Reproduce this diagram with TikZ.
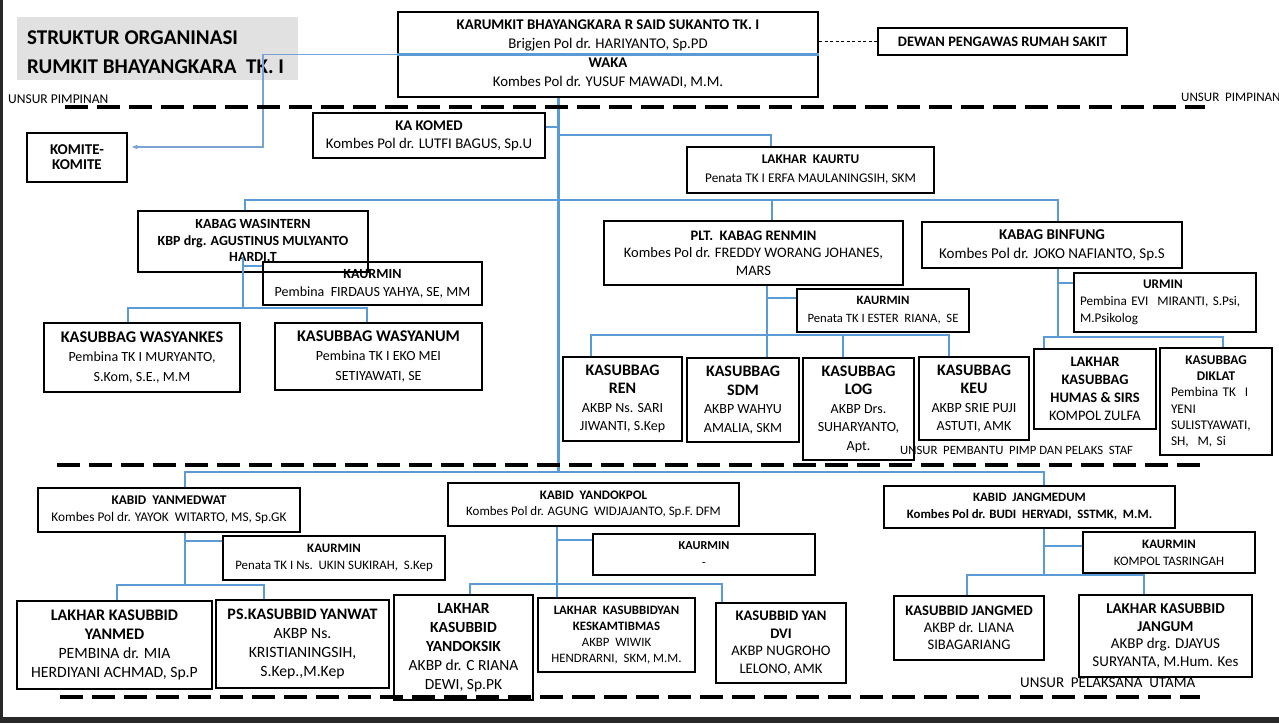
\documentclass[tikz,border=0pt]{standalone}
\usepackage{fontspec}
\setmainfont{Carlito}
\usetikzlibrary{arrows.meta}
\definecolor{lineblue}{RGB}{91,155,213}
\definecolor{thinblue}{RGB}{120,163,212}
\definecolor{titlegray}{RGB}{225,225,225}
\definecolor{framedark}{RGB}{40,40,40}
\newcommand\fsz[2]{\fontsize{#1}{#2}\selectfont}
\begin{document}
\begin{tikzpicture}[x=1pt,y=-1pt,
  box/.style={draw=black,line width=2.6pt,fill=white,align=center,inner sep=0pt},
  conn/.style={draw=lineblue,line width=2.8pt},
  sep/.style={draw=black,line width=3.2pt,dash pattern=on 23pt off 9pt},
  lbl/.style={inner sep=0pt,anchor=west,font=\fsz{12.7}{14}}]
\useasboundingbox (0,0) rectangle (1279,723);
\fill[white] (0,0) rectangle (1279,723);

% title
\fill[titlegray] (17,17) rectangle (298,80);
\node[inner sep=0pt,anchor=west,font=\fsz{21}{24}\bfseries] (tl1) at (27,38) {STRUKTUR ORGANINASI};
\node[inner sep=0pt,anchor=west,font=\fsz{21}{24}\bfseries] (tl2) at (27,67) {RUMKIT BHAYANGKARA\ \ TK. I};

\node[lbl,font=\fsz{13.5}{15}] (up1) at (8,99) {UNSUR PIMPINAN};
\node[lbl,font=\fsz{13}{15}] (up2) at (1181,97) {UNSUR\ \ PIMPINAN};
\node[lbl,font=\fsz{15}{17}] (up4) at (1020,683) {UNSUR\ \ PELAKSANA\ \ UTAMA};

% top level
\node[box,minimum width=420pt,minimum height=85pt,font=\fsz{14.8}{19}] (karumkit) at (608,54.5)
  {\textbf{KARUMKIT BHAYANGKARA R SAID SUKANTO TK. I}\\Brigjen Pol dr. HARIYANTO, Sp.PD\\\textbf{WAKA}\\Kombes Pol dr. YUSUF MAWADI, M.M.};
\node[box,minimum width=100pt,minimum height=49pt,font=\fsz{15}{15}\bfseries] (komite) at (77,157.5) {KOMITE-\\KOMITE};
\node[box,minimum width=249pt,minimum height=27pt,font=\fsz{14.5}{16}\bfseries] (dewan) at (1002.5,41.5) {DEWAN PENGAWAS RUMAH SAKIT};
\node[box,minimum width=232pt,minimum height=45pt,font=\fsz{14.8}{18}] (kakomed) at (429,135.5)
  {\textbf{KA KOMED}\\Kombes Pol dr. LUTFI BAGUS, Sp.U};
\node[box,minimum width=247pt,minimum height=46pt,font=\fsz{13.3}{19}] (kaurtu) at (810.5,170)
  {\textbf{LAKHAR\ \ KAURTU}\\Penata TK I ERFA MAULANINGSIH, SKM};

% wasintern group
\node[box,minimum width=219pt,minimum height=43pt,font=\fsz{14}{18}] (kaurmin1) at (372.5,283.5)
  {\textbf{KAURMIN}\\Pembina\ \ FIRDAUS YAHYA, SE, MM};
\node[box,fill=none,minimum width=230pt,minimum height=61pt,font=\fsz{14}{16.5}\bfseries] (wasintern) at (253,241.5)
  {KABAG WASINTERN\\KBP drg. AGUSTINUS MULYANTO\\HARDI,T};
\node[box,minimum width=196pt,minimum height=69pt,font=\fsz{14}{19.5}] (wasyankes) at (142,357.5)
  {{\fsz{16.3}{19.5}\bfseries KASUBBAG WASYANKES}\\Pembina TK I MURYANTO,\\S.Kom, S.E., M.M};
\node[box,minimum width=207pt,minimum height=67pt,font=\fsz{14}{19.5}] (wasyanum) at (378.5,356.5)
  {{\fsz{16.3}{19.5}\bfseries KASUBBAG WASYANUM}\\Pembina TK I EKO MEI\\SETIYAWATI, SE};

% renmin group
\node[box,minimum width=299pt,minimum height=64pt,font=\fsz{14.5}{17.5}] (renmin) at (753.5,253)
  {\textbf{PLT.\ \ KABAG RENMIN}\\Kombes Pol dr. FREDDY WORANG JOHANES,\\MARS};
\node[box,minimum width=172pt,minimum height=43pt,font=\fsz{12.7}{18}] (kaurmin2) at (883,310.5)
  {\textbf{KAURMIN}\\Penata TK I ESTER\ \ RIANA,\ \ SE};
\node[box,minimum width=119pt,minimum height=84pt,font=\fsz{14}{18.5}] (ren) at (622.5,399)
  {{\fsz{16}{18.5}\bfseries KASUBBAG}\\{\fsz{16}{18.5}\bfseries REN}\\AKBP Ns. SARI\\JIWANTI, S.Kep};
\node[box,minimum width=112pt,minimum height=84pt,font=\fsz{14}{18.5}] (sdm) at (743,400)
  {{\fsz{16}{18.5}\bfseries KASUBBAG}\\{\fsz{16}{18.5}\bfseries SDM}\\AKBP WAHYU\\AMALIA, SKM};
\node[box,minimum width=111pt,minimum height=102pt,font=\fsz{14}{18.5}] (log) at (858.5,409)
  {{\fsz{16}{18.5}\bfseries KASUBBAG}\\{\fsz{16}{18.5}\bfseries LOG}\\AKBP Drs.\\SUHARYANTO,\\Apt.};
\node[box,minimum width=110pt,minimum height=83pt,font=\fsz{14}{18.5}] (keu) at (974,398.5)
  {{\fsz{16}{18.5}\bfseries KASUBBAG}\\{\fsz{16}{18.5}\bfseries KEU}\\AKBP SRIE PUJI\\ASTUTI, AMK};
\node[lbl] (up3) at (900,450) {UNSUR\ \ PEMBANTU\ \ PIMP DAN PELAKS\ \ STAF};

% binfung group
\node[box,minimum width=260pt,minimum height=46pt,font=\fsz{15}{19}] (binfung) at (1052,245)
  {\textbf{KABAG BINFUNG}\\Kombes Pol dr. JOKO NAFIANTO, Sp.S};
\node[box,minimum width=182pt,minimum height=59pt,text width=170pt,align=left,font=\fsz{13.2}{17}] (urmin) at (1165,302.5)
  {\makebox[166pt]{\textbf{URMIN}}\\Pembina EVI\ \ MIRANTI, S.Psi,\\M.Psikolog};
\node[box,minimum width=122pt,minimum height=80pt,font=\fsz{14.5}{18}] (humas) at (1095,389)
  {\textbf{LAKHAR}\\\textbf{KASUBBAG}\\\textbf{HUMAS \& SIRS}\\KOMPOL ZULFA};
\node[box,minimum width=112pt,minimum height=107pt,text width=90pt,align=left,font=\fsz{13.3}{16.2}] (diklat) at (1216,401.5)
  {\makebox[90pt]{\textbf{KASUBBAG}}\\\makebox[90pt]{\textbf{DIKLAT}}\\Pembina TK\ \ I\\YENI\\SULISTYAWATI,\\SH,\ \ M, Si};

% yanmedwat group
\node[box,minimum width=262pt,minimum height=44pt,font=\fsz{13.3}{17}] (yanmedwat) at (169,510)
  {\textbf{KABID\ \ YANMEDWAT}\\Kombes Pol dr. YAYOK\ \ WITARTO, MS, Sp.GK};
\node[box,minimum width=222pt,minimum height=44pt,font=\fsz{12.9}{17}] (kaurmin3) at (334,558)
  {\textbf{KAURMIN}\\Penata TK I Ns.\ \ UKIN SUKIRAH,\ \ S.Kep};
\node[box,minimum width=195pt,minimum height=88pt,font=\fsz{15.7}{19}] (yanmed) at (114.5,645)
  {{\fsz{16.1}{19}\bfseries LAKHAR KASUBBID}\\{\fsz{16.1}{19}\bfseries YANMED}\\PEMBINA dr. MIA\\HERDIYANI ACHMAD, Sp.P};
\node[box,minimum width=173pt,minimum height=88pt,font=\fsz{15.7}{19}] (yanwat) at (302.5,644)
  {{\fsz{16}{19}\bfseries PS.KASUBBID YANWAT}\\AKBP Ns.\\KRISTIANINGSIH,\\S.Kep.,M.Kep};

% yandokpol group
\node[box,minimum width=291pt,minimum height=43pt,font=\fsz{13}{15.5}] (yandokpol) at (593.5,504.5)
  {\textbf{KABID\ \ YANDOKPOL}\\Kombes Pol dr. AGUNG\ \ WIDJAJANTO, Sp.F. DFM};
\node[box,minimum width=222pt,minimum height=41pt,font=\fsz{12.2}{17}] (kaurmin4) at (704,554.5)
  {\textbf{KAURMIN}\\-};
\node[box,minimum width=139pt,minimum height=105pt,font=\fsz{15.5}{19}] (yandoksik) at (463.5,647.5)
  {\textbf{LAKHAR}\\\textbf{KASUBBID}\\\textbf{YANDOKSIK}\\AKBP dr. C RIANA\\DEWI, Sp.PK};
\node[box,minimum width=157pt,minimum height=74pt,font=\fsz{12.8}{16}] (keskam) at (616.5,635)
  {\textbf{LAKHAR\ \ KASUBBIDYAN}\\\textbf{KESKAMTIBMAS}\\AKBP\ \ WIWIK\\HENDRARNI,\ \ SKM, M.M.};
\node[box,minimum width=130pt,minimum height=80pt,font=\fsz{14.6}{17.7}] (dvi) at (781,643)
  {\textbf{KASUBBID YAN}\\\textbf{DVI}\\AKBP NUGROHO\\LELONO, AMK};

% jangmedum group
\node[box,minimum width=291pt,minimum height=42pt,font=\fsz{12.8}{17}\bfseries] (jangmedum) at (1029.5,507)
  {KABID\ \ JANGMEDUM\\Kombes Pol dr. BUDI\ \ HERYADI,\ \ SSTMK,\ \ M.M.};
\node[box,minimum width=172pt,minimum height=41pt,font=\fsz{12.9}{17}] (kaurmin5) at (1169,552.5)
  {\textbf{KAURMIN}\\KOMPOL TASRINGAH};
\node[box,minimum width=150pt,minimum height=64pt,font=\fsz{14.6}{17}] (jangmed) at (969,628)
  {\textbf{KASUBBID JANGMED}\\AKBP dr. LIANA\\SIBAGARIANG};
\node[box,minimum width=173pt,minimum height=82pt,font=\fsz{15}{17.5}] (jangum) at (1165.5,636)
  {\textbf{LAKHAR KASUBBID}\\\textbf{JANGUM}\\AKBP drg. DJAYUS\\SURYANTA, M.Hum. Kes};

% ---------- connectors ----------
\draw[conn,line width=2.3pt] (karumkit.west) -- (karumkit.east);
\coordinate (kb) at (263,147);
\draw[thinblue,line width=1.2pt,-{Latex[length=6pt,width=5pt]},shorten >=3pt] (karumkit.west) -| (kb) -- (kb -| komite.east);
\draw[black,line width=0.8pt,dash pattern=on 3pt off 2.5pt] (karumkit.east |- dewan.west) -- (dewan.west);

\coordinate (tb) at (558.5,472);
\draw[conn] (karumkit.south -| tb) -- (tb);
\coordinate (ka) at (558.5,127);
\draw[conn] (ka -| kakomed.east) -- (ka);
\coordinate (kt) at (558.5,135); \coordinate (kt2) at (771,135);
\draw[conn] (kt) -- (kt2) -- (kt2 |- kaurtu.north);

\coordinate (ha) at (245,200); \coordinate (hb) at (772,200); \coordinate (hc) at (1058,200);
\draw[conn] (ha |- wasintern.north) -- (ha) -- (hc) -- (hc |- binfung.north);
\draw[conn] (hb) -- (hb |- renmin.north);

\coordinate (wtop) at (243,258); \coordinate (wv) at (243,308); \coordinate (ws) at (243,266);
\coordinate (wl) at (128,308); \coordinate (wr) at (367,308);
\draw[conn] (wtop) -- (wv);
\draw[conn] (ws) -- (ws -| kaurmin1.west);
\draw[conn] (wl |- wasyankes.north) -- (wl) -- (wr) -- (wr |- wasyanum.north);

\coordinate (rv) at (767,335); \coordinate (rs) at (767,298);
\draw[conn] (renmin.south -| rv) -- (rv);
\draw[conn] (rs) -- (rs -| kaurmin2.west);
\coordinate (rl) at (591,335); \coordinate (rr) at (949,335); \coordinate (rm) at (843,335);
\draw[conn] (rl |- ren.north) -- (rl) -- (rr) -- (rr |- keu.north);
\draw[conn] (rv) -- (rv |- sdm.north);
\draw[conn] (rm) -- (rm |- log.north);

\coordinate (bv) at (1058,337); \coordinate (bs) at (1058,283);
\draw[conn] (binfung.south -| bv) -- (bv);
\draw[conn] (bs) -- (bs -| urmin.west);
\coordinate (bl) at (1044,337); \coordinate (br) at (1223,337);
\draw[conn] (bl |- humas.north) -- (bl) -- (br) -- (br |- diklat.north);

\coordinate (la) at (185,472); \coordinate (lc) at (1044,472);
\draw[conn] (la |- yanmedwat.north) -- (la) -- (lc) -- (lc |- jangmedum.north);

\coordinate (yv) at (185,585); \coordinate (ys) at (185,541);
\draw[conn] (yanmedwat.south -| yv) -- (yv);
\draw[conn] (ys) -- (ys -| kaurmin3.west);
\coordinate (yl) at (117,585); \coordinate (yr) at (264,585);
\draw[conn] (yl |- yanmed.north) -- (yl) -- (yr) -- (yr |- yanwat.north);

\coordinate (dv) at (557,584); \coordinate (ds) at (557,540);
\draw[conn] (yandokpol.south -| dv) -- (dv) -- (dv |- keskam.north);
\draw[conn] (ds) -- (ds -| kaurmin4.west);
\coordinate (dl) at (470,584); \coordinate (dr) at (722,584);
\draw[conn] (dl |- yandoksik.north) -- (dl) -- (dr) -- (dr |- dvi.north);

\coordinate (gv) at (1044,575); \coordinate (gs) at (1044,546);
\draw[conn] (jangmedum.south -| gv) -- (gv);
\draw[conn] (gs) -- (gs -| kaurmin5.west);
\coordinate (gl) at (967,575); \coordinate (gr) at (1144,575);
\draw[conn] (gl |- jangmed.north) -- (gl) -- (gr) -- (gr |- jangum.north);

% separators
\draw[sep] (65,107) -- (1205,107);
\draw[sep] (57,465) -- (1200,465);
\draw[sep] (60,697) -- (1200,697);

% frame
\fill[framedark] (0,0) rectangle (3,723);
\fill[framedark] (0,717) rectangle (1279,723);
\end{tikzpicture}
\end{document}
